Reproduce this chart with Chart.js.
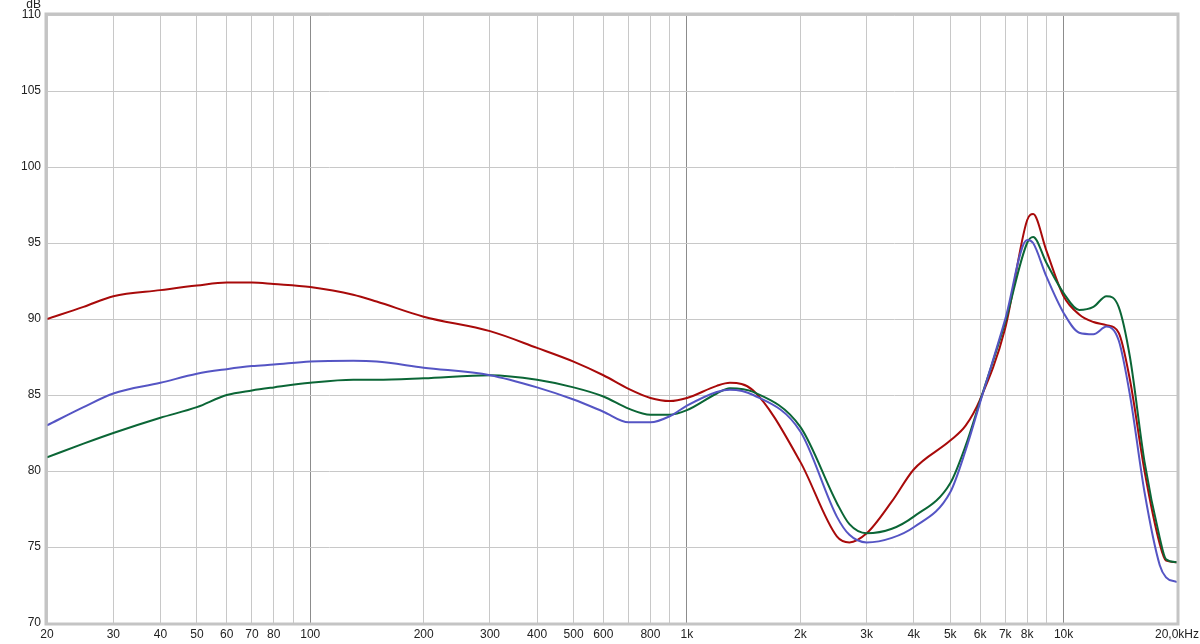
<!DOCTYPE html>
<html>
<head>
<meta charset="utf-8">
<script src="https://cdn.jsdelivr.net/npm/chart.js@4.4.1/dist/chart.umd.min.js"></script>
<style>
  html, body { margin: 0; padding: 0; background: #fff; }
  #wrap { width: 1200px; height: 644px; position: relative; }
</style>
</head>
<body>
<div id="wrap"><canvas id="fr"></canvas></div>
<script>
// frequencies (Hz) shared by all three traces
const freqs = [20, 25, 30, 40, 50, 60, 70, 80, 100, 130, 150, 200, 300, 400, 500, 600, 700, 800, 900,
  1000, 1200, 1300, 1500, 2000, 2500, 2700, 3000, 3500, 4000, 5000, 5500, 6000, 7000, 8000, 8300,
  9000, 10000, 11000, 12000, 13000, 14000, 15000, 16400, 18000, 18700, 20000];

const redDb = [90.0, 90.8, 91.5, 91.9, 92.2, 92.4, 92.4, 92.3, 92.1, 91.6, 91.15, 90.15, 89.2, 88.1, 87.2, 86.3, 85.4, 84.8, 84.6,
  84.8, 85.6, 85.8, 85.3, 80.6, 75.7, 75.3, 75.9, 78.0, 80.1, 82.0, 83.0, 84.7, 89.4, 96.5, 96.9,
  94.5, 91.5, 90.3, 89.8, 89.6, 89.1, 86.0, 80.0, 75.2, 74.1, 74.0];

const greenDb = [80.9, 81.8, 82.5, 83.5, 84.2, 85.0, 85.3, 85.5, 85.8, 86.0, 86.0, 86.1, 86.3, 86.0, 85.5, 84.9, 84.1, 83.7, 83.7,
  84.0, 85.1, 85.45, 85.2, 82.9, 77.9, 76.5, 75.9, 76.2, 77.0, 79.2, 81.7, 84.6, 89.8, 95.0, 95.4,
  93.7, 91.7, 90.6, 90.8, 91.5, 90.8, 87.5, 80.6, 75.6, 74.2, 74.0];

const blueDb = [83.0, 84.2, 85.1, 85.8, 86.4, 86.7, 86.9, 87.0, 87.2, 87.25, 87.2, 86.8, 86.3, 85.5, 84.7, 83.9, 83.2, 83.2, 83.6,
  84.3, 85.2, 85.35, 85.0, 82.6, 77.0, 75.8, 75.3, 75.6, 76.3, 78.6, 81.4, 84.5, 90.0, 95.2, 95.0,
  92.8, 90.4, 89.1, 89.0, 89.5, 88.6, 85.0, 78.6, 73.8, 73.0, 72.7];

// x axis grid positions and their labels ('' = grid line only)
const xTicks = [20, 30, 40, 50, 60, 70, 80, 90, 100, 200, 300, 400, 500, 600, 700, 800, 900,
  1000, 2000, 3000, 4000, 5000, 6000, 7000, 8000, 9000, 10000, 20000];
const xLabels = ['20', '30', '40', '50', '60', '70', '80', '', '100', '200', '300', '400', '500', '600', '', '800', '',
  '1k', '2k', '3k', '4k', '5k', '6k', '7k', '8k', '', '10k', '20,0kHz'];
const decades = [100, 1000, 10000];

const pts = arr => freqs.map((f, i) => ({ x: f, y: arr[i] }));

const framePlugin = {
  id: 'frame',
  afterDraw(chart) {
    const a = chart.chartArea, c = chart.ctx;
    c.save();
    c.strokeStyle = '#c4c4c4';
    c.lineWidth = 3;
    c.strokeRect(a.left - 1, a.top - 1, a.right - a.left + 2, a.bottom - a.top + 2);
    c.fillStyle = '#222';
    c.font = '12px "Liberation Sans", Arial, sans-serif';
    c.textAlign = 'right';
    c.textBaseline = 'top';
    c.fillText('dB', 41, -1);
    c.restore();
  }
};

const line = (data, color) => ({
  data: pts(data),
  borderColor: color,
  borderWidth: 2,
  pointRadius: 0,
  fill: false,
  cubicInterpolationMode: 'monotone'
});

new Chart(document.getElementById('fr'), {
  type: 'line',
  data: {
    datasets: [
      line(blueDb, '#5555c4'),
      line(greenDb, '#0b6636'),
      line(redDb, '#a80a0a')
    ]
  },
  options: {
    responsive: true,
    maintainAspectRatio: false,
    animation: false,
    layout: { padding: { left: 0, right: 23, top: 15, bottom: 0 } },
    plugins: { legend: { display: false }, tooltip: { enabled: false } },
    scales: {
      x: {
        type: 'logarithmic',
        min: 20,
        max: 20000,
        afterBuildTicks: s => { s.ticks = xTicks.map(v => ({ value: v })); },
        afterFit: s => { s.height = 21; s.paddingLeft = 0; s.paddingRight = 0; },
        grid: {
          drawTicks: false,
          color: ctx => decades.includes(ctx.tick && ctx.tick.value) ? '#8c8c8c' : '#c8c8c8'
        },
        border: { display: false },
        ticks: {
          autoSkip: false,
          maxRotation: 0,
          padding: 4,
          color: '#222',
          font: { family: '"Liberation Sans", Arial, sans-serif', size: 12 },
          callback: (v, i) => xLabels[i]
        }
      },
      y: {
        min: 70,
        max: 110,
        afterFit: s => { s.width = 47; s.paddingTop = 0; s.paddingBottom = 0; },
        grid: { drawTicks: false, color: '#c8c8c8' },
        border: { display: false },
        ticks: {
          stepSize: 5,
          padding: 6,
          color: '#222',
          font: { family: '"Liberation Sans", Arial, sans-serif', size: 12 }
        }
      }
    }
  },
  plugins: [framePlugin]
});
</script>
</body>
</html>
